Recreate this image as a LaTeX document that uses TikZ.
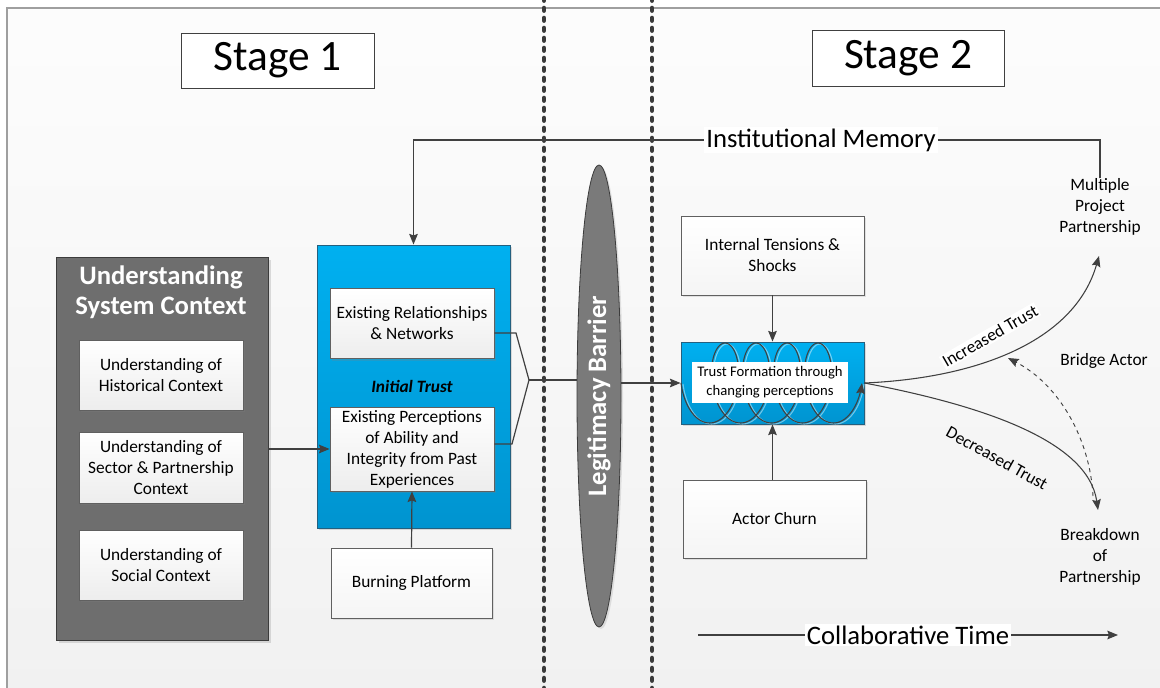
\documentclass[tikz,border=0pt]{standalone}
\usepackage{fontspec}
\setmainfont{Carlito}
\usetikzlibrary{arrows.meta,shadows,shapes.geometric}
\definecolor{linec}{HTML}{404040}
\definecolor{boxline}{HTML}{606060}
\definecolor{bluetop}{HTML}{00B0F0}
\definecolor{bluebot}{HTML}{0094D0}
\definecolor{blueline}{HTML}{24607F}
\definecolor{ctxfill}{HTML}{6E6E6E}
\definecolor{ctxline}{HTML}{3C3C3C}
\begin{document}
\begin{tikzpicture}[x=0.75pt,y=-0.75pt,
  conn/.style={draw=linec, line width=0.9pt},
  tip/.style={-{Stealth[length=8pt,width=6.5pt,inset=1.2pt]}},
  sized/.style 2 args={minimum width=#1*0.75pt, minimum height=#2*0.75pt, inner sep=0pt},
  smalltext/.style={font=\fontsize{13}{15.75}\selectfont, align=center},
  softbox/.style={draw=boxline, line width=0.6pt, top color=white, bottom color=gray!14,
    smalltext, drop shadow={shadow xshift=1.5pt, shadow yshift=-1.5pt, opacity=0.25}},
  plainbox/.style={draw=boxline, line width=0.6pt, top color=white, bottom color=gray!8,
    smalltext, drop shadow={shadow xshift=1.5pt, shadow yshift=-1.5pt, opacity=0.2}},
  stagebox/.style={draw=linec, line width=0.7pt, fill=white,
    font=\fontsize{32.5}{38}\selectfont},
  bluebox/.style={draw=blueline, line width=0.7pt, top color=bluetop, bottom color=bluebot,
    drop shadow={shadow xshift=1.5pt, shadow yshift=-1.5pt, opacity=0.25}},
  bigtext/.style={font=\fontsize{20}{24}\selectfont},
  divider/.style={draw=linec!90!black, line width=3.4pt, line cap=round, dash pattern=on 2pt off 5.5pt},
]
\useasboundingbox (0,0) rectangle (1160,688);

% canvas and frame
\fill[white] (0,0) rectangle (1160,688);
\shade[top color=gray!2, bottom color=gray!11] (7,8) rectangle (1170,700);
\draw[gray!75, line width=0.8pt] (1170,8) -- (7,8) -- (7,700);

% stage dividers
\draw[divider] (544,-2) -- (544,692);
\draw[divider] (652,-2) -- (652,692);

% stage headings
\node[stagebox, sized={193}{55}] (s1) at (277.5,60.5) {Stage 1};
\node[stagebox, sized={192}{56}] (s2) at (908,58) {Stage 2};

% system context panel
\node[draw=ctxline, fill=ctxfill, line width=0.7pt, sized={212}{383},
  drop shadow={shadow xshift=2pt, shadow yshift=-2pt, opacity=0.25}] (ctx) at (162,448.5) {};
\node[text=white, font=\fontsize{20}{22.5}\selectfont\bfseries, align=center] (ctxtitle) at (161,292) {Understanding\\System Context};
\node[softbox, sized={164}{70}] (hist) at (161,375) {Understanding of\\Historical Context};
\node[softbox, sized={164}{71}] (sect) at (161,467.5) {Understanding of\\Sector \& Partnership\\Context};
\node[softbox, sized={164}{70}] (soc) at (161,565) {Understanding of\\Social Context};

% initial trust panel
\node[bluebox, sized={193}{283}] (trust) at (413.5,386.5) {};
\node[softbox, sized={164}{70}] (rel) at (412,323.5) {Existing Relationships\\\& Networks};
\node[font=\fontsize{13}{15.75}\selectfont\bfseries\itshape] (init) at (412,386) {Initial Trust};
\node[softbox, sized={164}{84}] (perc) at (412,449) {Existing Perceptions\\of Ability and\\Integrity from Past\\Experiences};
\node[plainbox, sized={161}{70}] (burn) at (411.5,583) {Burning Platform};

% legitimacy barrier
\node[ellipse, draw=ctxline, fill=ctxfill!92!white, line width=0.6pt, sized={44}{462},
  drop shadow={shadow xshift=1.5pt, shadow yshift=-1.5pt, opacity=0.2}] (barrier) at (599,396) {};
\node[rotate=90, text=white, font=\fontsize{20}{24}\selectfont\bfseries] (barriertext) at (599,396) {Legitimacy Barrier};

% stage 2 boxes
\node[plainbox, sized={183}{79}] (tension) at (772.5,255.5) {Internal Tensions \&\\Shocks};
\node[bluebox, sized={183}{82}] (tf) at (772.5,383) {};
\node[plainbox, sized={183}{78}] (churn) at (774.5,519) {Actor Churn};

% changing perceptions coil
\draw[white, opacity=0.45, line width=0.8pt, shift={(2,1)}]
  plot[domain=0:9*pi, samples=360, variable=\t, smooth]
  ({701.8+4.93*\t-20.8*cos(\t r)}, {383+40*sin(\t r)});
\draw[conn, line width=0.8pt, tip]
  plot[domain=0:9*pi, samples=360, variable=\t, smooth]
  ({701.8+4.93*\t-20.8*cos(\t r)}, {383+40*sin(\t r)});
\node[fill=white, sized={156}{41}, font=\fontsize{11}{14.25}\selectfont, align=center] (tflabel) at (770,382.5) {Trust Formation through\\changing perceptions};

% outcome labels
\node[smalltext, inner sep=0pt] (multi) at (1100,207) {Multiple\\Project\\Partnership};
\node[smalltext, inner sep=0pt] (breakdown) at (1100,557) {Breakdown\\of\\Partnership};
\node[smalltext] (bridge) at (1104,361) {Bridge Actor};
\coordinate (uptip) at (1099,256);
\coordinate (downtip) at (1098,510);
\coordinate (bridgefoot) at (1093,496);
\coordinate (bridgetip) at (1008,358);

% connectors
\coordinate (j) at (529,380);
\draw[conn, tip] (ctx.east |- perc.west) -- (perc.west);
\draw[conn] (rel.east |- 0,333) -- (516,333) -- (j);
\draw[conn] (perc.east |- 0,444) -- (512,444) -- (j);
\draw[conn] (j) -- (j -| barrier.west);
\draw[conn, tip] (barrier.east |- tf.west) -- (tf.west);
\draw[conn, tip] (burn.north) -- (perc.south);
\draw[conn, tip] (tension.south) -- (tf.north);
\draw[conn, tip] (tf.south |- churn.north) -- (tf.south);

% institutional memory loop
\draw[conn, tip] (multi.north) |- (trust.north |- 0,140) -- (trust.north);
\node[fill=white, inner sep=1.5pt, bigtext] (memory) at (821,140) {Institutional Memory};

% trust trajectories
\draw[conn, line width=0.8pt, tip] (tf.east) .. controls (980,378) and (1075,340) .. (uptip);
\draw[conn, line width=0.8pt, tip] (tf.east) .. controls (980,405) and (1088,440) .. (downtip);
\draw[conn, line width=0.7pt, dashed, tip] (bridgefoot) .. controls (1090,440) and (1060,385) .. (bridgetip);
\node[smalltext, rotate=30, fill=white, inner sep=1pt] (inc) at (990,336) {Increased Trust};
\node[smalltext, rotate=-29, inner sep=1pt] (dec) at (997,458) {Decreased Trust};

% time axis
\coordinate (t0) at (698,635);
\coordinate (t1) at (1118,635);
\draw[conn, tip] (t0) -- (t1);
\node[fill=white, inner sep=1.5pt, bigtext] (time) at (908,635) {Collaborative Time};
\end{tikzpicture}
\end{document}
